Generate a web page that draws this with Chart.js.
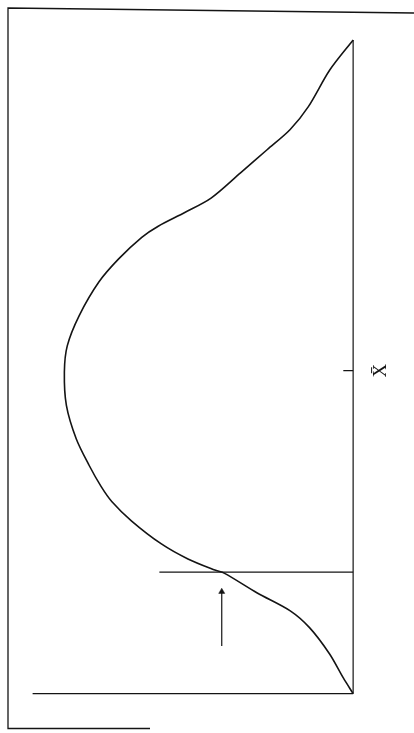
<!DOCTYPE html>
<html>
<head>
<meta charset="utf-8">
<script src="https://cdn.jsdelivr.net/npm/chart.js@4/dist/chart.umd.min.js"></script>
<style>
  html, body { margin: 0; padding: 0; background: #fff; }
  canvas { display: block; }
</style>
</head>
<body>
<canvas id="curveChart" width="414" height="733"></canvas>
<script>
// distribution curve (score runs up the page, density to the left)
const curveScore = [100, 95.4, 89.8, 86.3, 83.2, 79.7, 75.8, 73.6, 71.5, 69.8, 66.5, 63.0, 57.8, 53.2, 49.2, 44.1, 39.0, 34.9, 31.7, 29.4, 26.4, 22.9, 20.6, 18.9, 18.4, 15.4, 12.7, 10.1, 6.1, 2.4, 0];
const curveDensity = [0, 0.081, 0.155, 0.218, 0.298, 0.389, 0.492, 0.583, 0.675, 0.732, 0.812, 0.880, 0.949, 0.990, 1.000, 0.993, 0.959, 0.914, 0.873, 0.836, 0.767, 0.664, 0.572, 0.479, 0.445, 0.332, 0.219, 0.151, 0.082, 0.034, 0];

const meanScore = 49.4;
const meanLabel = 'X\u0304';
const tickLength = 0.034;
const cutoffScore = 18.6;
const cutoffLength = 0.671;
const arrowDensity = 0.455;
const arrowFrom = 7.3;
const arrowTo = 15.6;
const scoreRange = [0, 100];
const densityAxisLength = 1.11;

const ink = '#141414';

const points = curveScore.map((s, i) => ({ x: curveDensity[i], y: s }));

function segment(x1, y1, x2, y2) {
  return [{ x: x1, y: y1 }, { x: x2, y: y2 }];
}

const framePlugin = {
  id: 'frame',
  afterDraw(chart) {
    const { ctx, chartArea } = chart;
    ctx.save();
    ctx.strokeStyle = ink;
    ctx.lineWidth = 1.3;
    ctx.beginPath();
    ctx.moveTo(chart.width, chartArea.top + 5);
    ctx.lineTo(chartArea.left, chartArea.top);
    ctx.lineTo(chartArea.left, chartArea.bottom);
    ctx.lineTo(chartArea.left + 142, chartArea.bottom);
    ctx.stroke();

    // mean label beside the tick, turned with the page
    const xs = chart.scales.x, ys = chart.scales.y;
    ctx.translate(xs.getPixelForValue(0) + 28, ys.getPixelForValue(meanScore));
    ctx.rotate(-Math.PI / 2);
    ctx.fillStyle = ink;
    ctx.font = '19px "Liberation Serif", serif';
    ctx.textAlign = 'center';
    ctx.textBaseline = 'middle';
    ctx.fillText(meanLabel, 0, 0);
    ctx.restore();
  }
};

const lineStyle = { borderColor: ink, borderWidth: 1.2, pointRadius: 0, showLine: true, fill: false };

new Chart(document.getElementById('curveChart'), {
  type: 'scatter',
  data: {
    datasets: [
      { ...lineStyle, data: points, borderWidth: 1.6, tension: 0.3 },
      { ...lineStyle, data: segment(0, scoreRange[0], 0, scoreRange[1]) },
      { ...lineStyle, data: segment(0, scoreRange[0], densityAxisLength, scoreRange[0]) },
      { ...lineStyle, data: segment(0, cutoffScore, cutoffLength, cutoffScore) },
      { ...lineStyle, data: segment(0, meanScore, tickLength, meanScore) },
      {
        ...lineStyle,
        data: segment(arrowDensity, arrowFrom, arrowDensity, arrowTo),
        pointStyle: 'triangle',
        pointRadius: [0, 3.5],
        pointBackgroundColor: ink,
        pointBorderColor: ink,
        pointBorderWidth: 0.5
      }
    ]
  },
  options: {
    responsive: false,
    animation: false,
    layout: { padding: { left: 8, top: 8, right: 0, bottom: 2 } },
    plugins: { legend: { display: false }, tooltip: { enabled: false } },
    scales: {
      x: { type: 'linear', reverse: true, min: -0.1952, max: 1.1952, display: false },
      y: { type: 'linear', min: -5.33, max: 104.88, display: false }
    }
  },
  plugins: [framePlugin]
});
</script>
</body>
</html>
